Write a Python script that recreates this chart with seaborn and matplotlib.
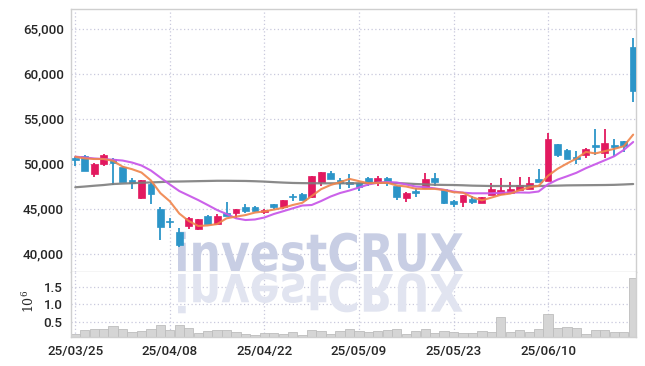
import numpy as np
import pandas as pd
import matplotlib
matplotlib.use("Agg")
import matplotlib.pyplot as plt
import seaborn as sns
from matplotlib.textpath import TextPath
from matplotlib.patches import PathPatch
from matplotlib.font_manager import FontProperties
from matplotlib.transforms import Affine2D

# ---------------- data ----------------
opens = [50650, 50850, 48850, 50000, 50500, 49600, 48200, 46150, 47700, 44950,
         43500, 42400, 43100, 42700, 44200, 43300, 44550, 44450, 45200, 45150,
         44600, 45500, 45200, 46300, 46650, 46250, 48000, 49000, 48150, 47900,
         47800, 48400, 47850, 48400, 47500, 46150, 47000, 47250, 48400, 47150,
         45850, 45700, 46100, 45650, 46500, 46600, 46750, 47050, 47200, 48300,
         48100, 52150, 51500, 50700, 50900, 52050, 51200, 52050, 52450, 62900]
highs = [50700, 50900, 50050, 51050, 50600, 49700, 48350, 48200, 47800, 45150,
         43900, 42850, 44050, 43850, 44250, 44350, 45700, 45000, 45450, 45250,
         44950, 45550, 46000, 46600, 46700, 48650, 49100, 49200, 48400, 48800,
         47850, 48500, 48600, 48450, 47550, 46800, 47300, 48900, 48900, 47200,
         45950, 46500, 46400, 46250, 47800, 48350, 48000, 48550, 48450, 49350,
         53350, 52200, 51600, 51400, 51700, 53800, 53800, 52700, 52500, 63900]
lows = [49750, 49150, 48450, 49700, 47600, 47900, 47150, 46100, 45450, 41500,
        42850, 40750, 42700, 42600, 43250, 43250, 44150, 44000, 44450, 44650,
        44400, 45000, 44900, 45850, 45900, 46200, 47500, 48250, 47150, 47250,
        47000, 47500, 47500, 47500, 45950, 45700, 46250, 47200, 47500, 45450,
        45200, 45200, 45500, 45600, 46450, 46550, 46700, 47000, 47150, 47900,
        48050, 50700, 50450, 49950, 50600, 50950, 50600, 50850, 51300, 56800]
closes = [50350, 49200, 50000, 51000, 50050, 48000, 47800, 48150, 46600, 43000,
          43450, 41000, 44000, 43850, 43300, 44200, 44200, 44950, 44700, 44700,
          44850, 45200, 45950, 46250, 45900, 48600, 49050, 48250, 47800, 47750,
          47350, 47900, 48400, 47900, 46250, 46750, 46700, 48250, 47950, 45650,
          45500, 46450, 45700, 46250, 47150, 47050, 47150, 47600, 47800, 47950,
          52700, 51000, 50550, 50550, 51650, 51850, 52250, 51850, 52000, 58100]
ma5 = [50750, 50570, 50500, 50500, 50300, 49650, 49370, 49000, 48120, 46710,
       45800, 44440, 43610, 43060, 43120, 43270, 43910, 44100, 44270, 44550,
       44680, 44880, 45080, 45390, 45630, 46380, 47150, 47610, 47920, 48290,
       48040, 47810, 47840, 47860, 47560, 47440, 47200, 47170, 47180, 47060,
       46810, 46760, 46250, 45910, 46210, 46520, 46660, 47040, 47350, 47510,
       48640, 49410, 50000, 50550, 51290, 51120, 51370, 51630, 51920, 53210]
ma20 = [50760, 50670, 50560, 50500, 50420, 50330, 50110, 49780, 49220, 48440,
        47670, 46940, 46440, 45940, 45390, 44830, 44390, 43910, 43720, 43780,
        44000, 44390, 44700, 45020, 45330, 45390, 45830, 46330, 46720, 47000,
        47330, 47670, 47870, 47940, 47890, 47670, 47440, 47370, 47240, 47080,
        46890, 46760, 46690, 46690, 46690, 46740, 46780, 46780, 46760, 46890,
        47690, 48210, 48580, 48970, 49480, 49920, 50360, 50810, 51500, 52390]
ma120 = [47360, 47440, 47530, 47610, 47720, 47770, 47810, 47860, 47900, 47940,
         47990, 48000, 48020, 48040, 48060, 48080, 48080, 48070, 48060, 48030,
         47990, 47930, 47880, 47840, 47820, 47810, 47800, 47800, 47800, 47800,
         47810, 47830, 47860, 47860, 47820, 47780, 47720, 47680, 47640, 47620,
         47610, 47580, 47540, 47520, 47500, 47500, 47500, 47500, 47500, 47500,
         47520, 47540, 47570, 47580, 47590, 47600, 47610, 47630, 47670, 47720]
volume = [0.161, 0.275, 0.295, 0.295, 0.388, 0.303, 0.227, 0.246, 0.303, 0.408,
          0.275, 0.408, 0.331, 0.198, 0.255, 0.275, 0.275, 0.218, 0.161, 0.125,
          0.181, 0.181, 0.161, 0.218, 0.133, 0.266, 0.246, 0.161, 0.246, 0.295,
          0.246, 0.227, 0.246, 0.275, 0.295, 0.161, 0.246, 0.295, 0.198, 0.237,
          0.227, 0.198, 0.189, 0.237, 0.218, 0.652, 0.227, 0.266, 0.227, 0.295,
          0.728, 0.323, 0.368, 0.323, 0.161, 0.266, 0.285, 0.208, 0.208, 1.740]
tick_pos = [0, 10, 20, 30, 40, 50]
tick_labels = ["25/03/25", "25/04/08", "25/04/22", "25/05/09", "25/05/23", "25/06/10"]
price_ticks = [40000, 45000, 50000, 55000, 60000, 65000]
vol_ticks = [0.5, 1.0, 1.5]

df = pd.DataFrame({"open": opens, "high": highs, "low": lows, "close": closes,
                   "ma5": ma5, "ma20": ma20, "ma120": ma120, "vol": volume})
df["idx"] = np.arange(len(df))

# ---------------- style ----------------
sns.set_theme(style="white")
plt.rcParams["font.family"] = ["Roboto", "DejaVu Sans"]
plt.rcParams["font.weight"] = "medium"
plt.rcParams["mathtext.fontset"] = "dejavuserif"

RED = "#e2195f"
BLUE = "#2c95c8"
GRID = "#c9c9dd"
SPINE = "#cfcfcf"
TXT = "#262626"
TICK_FS = 9.6

fig = plt.figure(figsize=(6.45, 3.66), dpi=100)
ax = fig.add_axes([0.1101, 0.2568, 0.8767, 0.7186])
axv = fig.add_axes([0.1101, 0.0792, 0.8767, 0.1776])

# ---------------- watermark ----------------
fp = FontProperties(family="DejaVu Sans", weight="bold")
tp = TextPath((0, 0), "investCRUX", size=100, prop=fp)
ext = tp.get_extents()
W, H = 285.0, 40.0
sx, sy = W / ext.width, H / ext.height
x0, base = 178.0, 366 - 272.0
t_main = Affine2D().translate(-ext.x0, 0).scale(sx, sy).translate(x0, base + 1)
t_refl = Affine2D().translate(-ext.x0, 0).scale(sx, -sy).translate(x0, base - 2)
wm = PathPatch(tp, transform=t_main, facecolor="#c8cee4", edgecolor="none", zorder=0.6)
wm2 = PathPatch(tp, transform=t_refl, facecolor="#e1e4f0", edgecolor="none", zorder=0.6)
ax.add_artist(wm)
axv.add_artist(wm2)

# ---------------- candles ----------------
up = df["close"] >= df["open"]
cols = np.where(up, RED, BLUE)
body_lo = np.minimum(df["open"], df["close"])
body_h = np.maximum(np.abs(df["close"] - df["open"]), 110)
ax.vlines(df["idx"], df["low"], df["high"], colors=cols, linewidth=1.3, zorder=2)
ax.bar(df["idx"], body_h, bottom=body_lo, width=0.72, color=cols,
       edgecolor=cols, linewidth=0.5, zorder=3)

# ---------------- moving averages ----------------
sns.lineplot(data=df, x="idx", y="ma120", ax=ax, color="#7d7d7d", linewidth=1.6,
             alpha=0.9, zorder=4)
sns.lineplot(data=df, x="idx", y="ma20", ax=ax, color="#c95ae9", linewidth=1.5,
             alpha=0.95, zorder=4)
sns.lineplot(data=df, x="idx", y="ma5", ax=ax, color="#f0844a", linewidth=1.5,
             alpha=0.9, zorder=5)

ax.set_xlim(-0.45, 59.35)
ax.set_ylim(37944, 67167)
ax.set_yticks(price_ticks)
ax.set_yticklabels([f"{v:,}" for v in price_ticks])
ax.set_xticks(tick_pos)
ax.set_xticklabels([])
ax.set_xlabel("")
ax.set_ylabel("")
ax.grid(True, color=GRID, linestyle=(0, (1, 2)), linewidth=0.9)
ax.set_axisbelow(True)
ax.tick_params(axis="both", length=0, pad=5, labelsize=TICK_FS, colors=TXT)
for s in ax.spines.values():
    s.set_color(SPINE)
    s.set_linewidth(1.0)

# ---------------- volume ----------------
sns.barplot(data=df, x="idx", y="vol", ax=axv, color="#d5d5d5", saturation=1,
            width=0.98, edgecolor="#bdbdbd", linewidth=0.6, zorder=2)
axv.set_xlim(-0.45, 59.35)
axv.set_ylim(0.076, 1.92)
axv.set_yticks(vol_ticks)
axv.set_yticklabels([f"{v:.1f}" for v in vol_ticks])
axv.set_xticks(tick_pos)
axv.set_xticklabels(tick_labels)
axv.set_xlabel("")
axv.set_ylabel(r"$10^6$", fontsize=9, color=TXT)
axv.yaxis.set_label_coords(-0.06, 0.55)
axv.grid(True, color=GRID, linestyle=(0, (1, 2)), linewidth=0.9)
axv.set_axisbelow(True)
axv.tick_params(axis="both", length=0, pad=6, labelsize=TICK_FS, colors=TXT)
for s in axv.spines.values():
    s.set_color(SPINE)
    s.set_linewidth(1.0)
axv.spines["top"].set_visible(False)

fig.savefig("out.png", dpi=100)
